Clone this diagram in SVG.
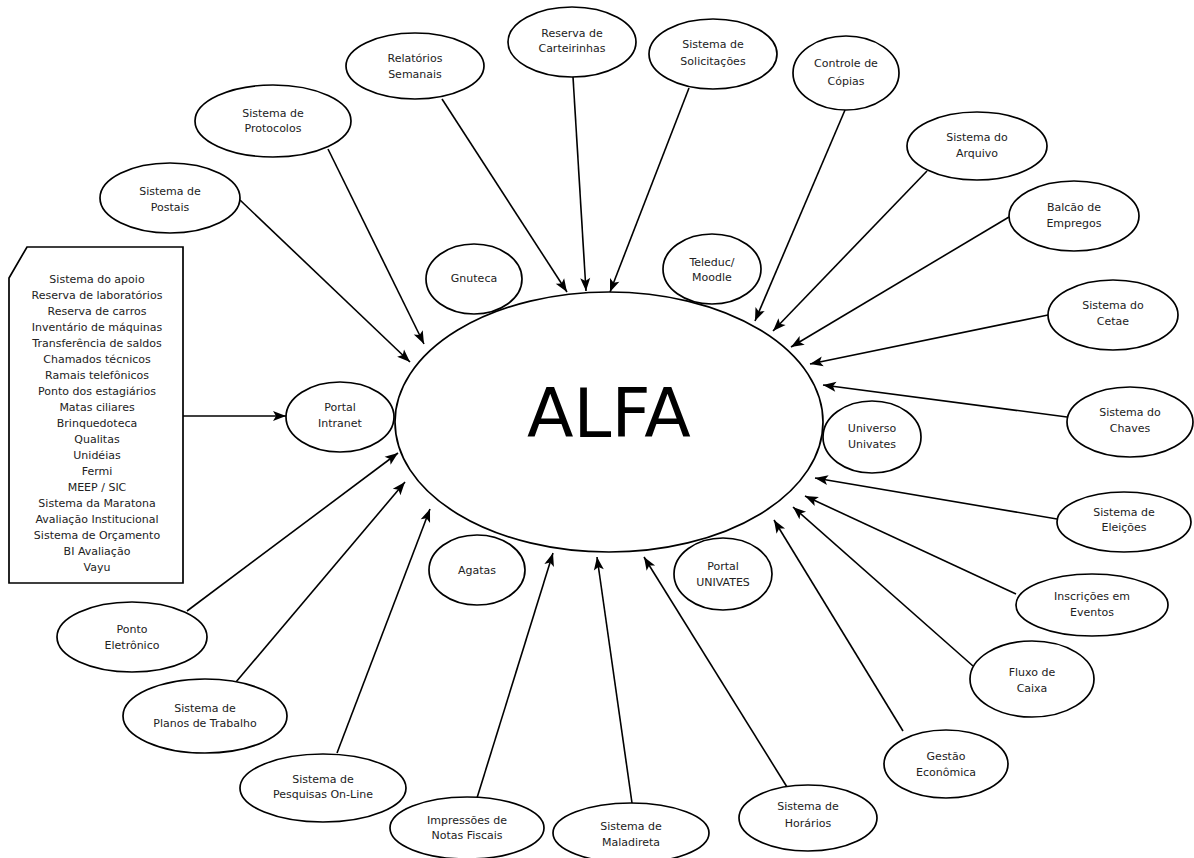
<svg xmlns="http://www.w3.org/2000/svg" width="1194" height="858" viewBox="0 0 1194 858">
<style>
.n ellipse{fill:#fff;stroke:#000;stroke-width:1.7}
text{font-family:"DejaVu Sans",sans-serif;font-size:11px;fill:#222;text-anchor:middle}
.big{font-size:68px;fill:#000}
#connectors line{stroke:#000;stroke-width:1.6;marker-end:url(#ah)}
</style>
<defs>
<marker id="ah" markerUnits="userSpaceOnUse" markerWidth="16" markerHeight="12" viewBox="-14 -6 16 12" refX="0" refY="0" orient="auto">
<path d="M0,0 L-13,-5 L-10,0 L-13,5 Z" fill="#000"/>
</marker>
</defs>
<rect width="1194" height="858" fill="#fff"/>
<g id="connectors">
<line x1="183" y1="416" x2="286" y2="416"/>
<line x1="240" y1="200" x2="410" y2="362"/>
<line x1="328" y1="149" x2="424" y2="344"/>
<line x1="442" y1="99" x2="567" y2="292"/>
<line x1="573" y1="77" x2="586" y2="291"/>
<line x1="689" y1="88" x2="610" y2="292"/>
<line x1="845" y1="110" x2="755" y2="321"/>
<line x1="927" y1="171" x2="773" y2="331"/>
<line x1="1009" y1="217" x2="791" y2="347"/>
<line x1="1048" y1="315" x2="810" y2="364"/>
<line x1="1067" y1="417" x2="823" y2="385"/>
<line x1="1057" y1="519" x2="815" y2="478"/>
<line x1="1016" y1="594" x2="805" y2="496"/>
<line x1="973" y1="666" x2="793" y2="507"/>
<line x1="903" y1="731" x2="774" y2="520"/>
<line x1="787" y1="787" x2="644" y2="557"/>
<line x1="632" y1="803" x2="597" y2="557"/>
<line x1="477" y1="798" x2="553" y2="553"/>
<line x1="337" y1="753" x2="430" y2="509"/>
<line x1="236" y1="682" x2="405" y2="482"/>
<line x1="187" y1="611" x2="398" y2="453"/>
</g>
<g id="alfa" class="n"><ellipse cx="609" cy="422" rx="214" ry="130"/><text class="big" x="609" y="437">ALFA</text></g>
<g id="lista">
<polygon points="27,247 183,247 183,583 9,583 9,278" fill="#fff" stroke="#000" stroke-width="1.7"/>
<text x="97" y="283">Sistema do apoio</text>
<text x="97" y="299">Reserva de laboratórios</text>
<text x="97" y="315">Reserva de carros</text>
<text x="97" y="331">Inventário de máquinas</text>
<text x="97" y="347">Transferência de saldos</text>
<text x="97" y="363">Chamados técnicos</text>
<text x="97" y="379">Ramais telefônicos</text>
<text x="97" y="395">Ponto dos estagiários</text>
<text x="97" y="411">Matas ciliares</text>
<text x="97" y="427">Brinquedoteca</text>
<text x="97" y="443">Qualitas</text>
<text x="97" y="459">Unidéias</text>
<text x="97" y="475">Fermi</text>
<text x="97" y="491">MEEP / SIC</text>
<text x="97" y="507">Sistema da Maratona</text>
<text x="97" y="523">Avaliação Institucional</text>
<text x="97" y="539">Sistema de Orçamento</text>
<text x="97" y="555">BI Avaliação</text>
<text x="97" y="571">Vayu</text>
</g>
<g id="postais" class="n"><ellipse cx="170" cy="198" rx="70" ry="35"/><text x="170" y="195">Sistema de</text><text x="170" y="211">Postais</text></g>
<g id="protocolos" class="n"><ellipse cx="273" cy="121" rx="78" ry="36"/><text x="273" y="117">Sistema de</text><text x="273" y="132">Protocolos</text></g>
<g id="relatorios" class="n"><ellipse cx="415" cy="66" rx="69" ry="33"/><text x="415" y="62">Relatórios</text><text x="415" y="78">Semanais</text></g>
<g id="carteirinhas" class="n"><ellipse cx="572" cy="42" rx="64" ry="35"/><text x="572" y="37">Reserva de</text><text x="572" y="52">Carteirinhas</text></g>
<g id="solicitacoes" class="n"><ellipse cx="713" cy="54" rx="64" ry="35"/><text x="713" y="48">Sistema de</text><text x="713" y="65">Solicitações</text></g>
<g id="copias" class="n"><ellipse cx="846" cy="73" rx="53" ry="37"/><text x="846" y="67">Controle de</text><text x="846" y="85">Cópias</text></g>
<g id="arquivo" class="n"><ellipse cx="977" cy="146" rx="70" ry="34"/><text x="977" y="141">Sistema do</text><text x="977" y="157">Arquivo</text></g>
<g id="balcao" class="n"><ellipse cx="1074" cy="216" rx="65" ry="35"/><text x="1074" y="211">Balcão de</text><text x="1074" y="227">Empregos</text></g>
<g id="cetae" class="n"><ellipse cx="1113" cy="315" rx="65" ry="35"/><text x="1113" y="309">Sistema do</text><text x="1113" y="325">Cetae</text></g>
<g id="chaves" class="n"><ellipse cx="1130" cy="422" rx="63" ry="35"/><text x="1130" y="416">Sistema do</text><text x="1130" y="432">Chaves</text></g>
<g id="universo" class="n"><ellipse cx="872" cy="437" rx="49" ry="36"/><text x="872" y="432">Universo</text><text x="872" y="448">Univates</text></g>
<g id="eleicoes" class="n"><ellipse cx="1124" cy="522" rx="67" ry="30"/><text x="1124" y="516">Sistema de</text><text x="1124" y="531">Eleições</text></g>
<g id="inscricoes" class="n"><ellipse cx="1092" cy="605" rx="76" ry="31"/><text x="1092" y="600">Inscrições em</text><text x="1092" y="616">Eventos</text></g>
<g id="fluxo" class="n"><ellipse cx="1032" cy="679" rx="62" ry="38"/><text x="1032" y="676">Fluxo de</text><text x="1032" y="692">Caixa</text></g>
<g id="gestao" class="n"><ellipse cx="946" cy="764" rx="62" ry="34"/><text x="946" y="760">Gestão</text><text x="946" y="776">Econômica</text></g>
<g id="horarios" class="n"><ellipse cx="808" cy="818" rx="69" ry="33"/><text x="808" y="810">Sistema de</text><text x="808" y="827">Horários</text></g>
<g id="maladireta" class="n"><ellipse cx="631" cy="833" rx="78" ry="30"/><text x="631" y="830">Sistema de</text><text x="631" y="846">Maladireta</text></g>
<g id="impressoes" class="n"><ellipse cx="467" cy="828" rx="77" ry="31"/><text x="467" y="824">Impressões de</text><text x="467" y="839">Notas Fiscais</text></g>
<g id="pesquisas" class="n"><ellipse cx="323" cy="788" rx="83" ry="34"/><text x="323" y="783">Sistema de</text><text x="323" y="798">Pesquisas On-Line</text></g>
<g id="planos" class="n"><ellipse cx="205" cy="716" rx="82" ry="37"/><text x="205" y="712">Sistema de</text><text x="205" y="727">Planos de Trabalho</text></g>
<g id="ponto" class="n"><ellipse cx="132" cy="637" rx="75" ry="35"/><text x="132" y="633">Ponto</text><text x="132" y="649">Eletrônico</text></g>
<g id="agatas" class="n"><ellipse cx="477" cy="570" rx="48" ry="35"/><text x="477" y="574">Agatas</text></g>
<g id="portal-univates" class="n"><ellipse cx="723" cy="574" rx="49" ry="36"/><text x="723" y="570">Portal</text><text x="723" y="586">UNIVATES</text></g>
<g id="portal-intranet" class="n"><ellipse cx="340" cy="417" rx="54" ry="35"/><text x="340" y="411">Portal</text><text x="340" y="427">Intranet</text></g>
<g id="gnuteca" class="n"><ellipse cx="474" cy="279" rx="48" ry="35"/><text x="474" y="282">Gnuteca</text></g>
<g id="teleduc" class="n"><ellipse cx="712" cy="269" rx="49" ry="35"/><text x="712" y="266">Teleduc/</text><text x="712" y="281">Moodle</text></g>
</svg>
